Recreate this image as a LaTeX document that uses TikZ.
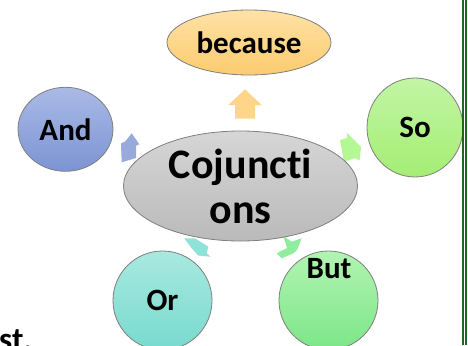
\documentclass[tikz,border=0pt]{standalone}
\usepackage{fontspec}
\setmainfont{Carlito}[Ligatures=NoCommon]
\usetikzlibrary{shapes.geometric}
\definecolor{edgegray}{HTML}{7F7F7F}
\definecolor{becTop}{HTML}{FFE2A6}
\definecolor{becBot}{HTML}{FBCB6E}
\definecolor{andTop}{HTML}{AABAE6}
\definecolor{andBot}{HTML}{7C94D4}
\definecolor{soTop}{HTML}{C2F5A4}
\definecolor{soBot}{HTML}{A4EE74}
\definecolor{cenTop}{HTML}{D6D6D6}
\definecolor{cenBot}{HTML}{BABABA}
\definecolor{orTop}{HTML}{A8E9E0}
\definecolor{orBot}{HTML}{78DACE}
\definecolor{butTop}{HTML}{B2F4B2}
\definecolor{butBot}{HTML}{7CE688}
\definecolor{arUp}{HTML}{FFD589}
\definecolor{arAnd}{HTML}{98AADC}
\definecolor{arSo}{HTML}{B4F894}
\definecolor{arOr}{HTML}{8EE2D8}
\definecolor{arBut}{HTML}{90EC9E}
\definecolor{frameGreen}{HTML}{1B6B1B}
\begin{document}
\begin{tikzpicture}[x=1pt,y=-1pt,
  bub/.style={ellipse, draw=edgegray, line width=0.8pt, inner sep=0pt,
    font=\bfseries\fontsize{31}{36}\selectfont},
  lbl/.style={inner sep=0pt, font=\bfseries\fontsize{31}{36}\selectfont}]
\useasboundingbox (0,0) rectangle (468,345);
\clip (0,0) rectangle (468,345);
\fill[white] (0,0) rectangle (468,345);
% block arrows (drawn beneath the shapes)
\fill[arUp] (245,89.3) -- (261.7,105) -- (255,105) -- (255,118.5) -- (235,118.5) -- (235,105) -- (228.3,105) -- cycle;
\fill[arAnd] (131.7,133.3) -- (139.3,144.3) -- (136,145.7) -- (136,158) -- (121.7,162.3) -- (121,143.3) -- (125,141.7) -- cycle;
\fill[arSo] (340,140) -- (347,138) -- (347,133) -- (361,147) -- (359.5,160.5) -- (355,158) -- (344,162) -- cycle;
\fill[arOr] (184.3,238.3) -- (195,238.3) -- (208.3,246.7) -- (206.7,253.3) -- (210.5,256.7) -- (198.3,255.5) -- (191.7,248.3) -- cycle;
\fill[arBut] (283.3,236) -- (291.7,241.7) -- (301.7,238.3) -- (297,250) -- (293.3,253.3) -- (281.7,258.3) -- (276.7,253.3) -- (287,248) -- cycle;
% shapes
\node[bub, minimum width=164pt, minimum height=65pt, top color=becTop, bottom color=becBot] (because) at (249,42.5) {because};
\node[bub, minimum width=95pt, minimum height=84pt, top color=andTop, bottom color=andBot] (and) at (65.5,129.3) {And};
\node[bub, minimum width=96pt, minimum height=99pt, top color=soTop, bottom color=soBot] (so) at (415,127.5) {So};
\node[bub, minimum width=234pt, minimum height=110pt, top color=cenTop, bottom color=cenBot, align=center, font=\bfseries\fontsize{42}{45}\selectfont] (center) at (240.5,186) {Cojunct\kern0pt i\\ons};
\node[bub, minimum width=99pt, minimum height=99pt, top color=orTop, bottom color=orBot] (or) at (162.5,300.5) {Or};
\node[bub, minimum width=99pt, minimum height=99pt, top color=butTop, bottom color=butBot] (but) at (328.5,300.5) {};
\node[lbl] (butlabel) at (329,269) {But};
\node[lbl, anchor=base west, font=\bfseries\fontsize{33}{36}\selectfont] (st) at (-1,350) {st.};
% frame lines
\fill[frameGreen] (461.7,0) rectangle (464,345);
\fill[frameGreen] (465.2,0) rectangle (467.4,345);
\end{tikzpicture}
\end{document}
